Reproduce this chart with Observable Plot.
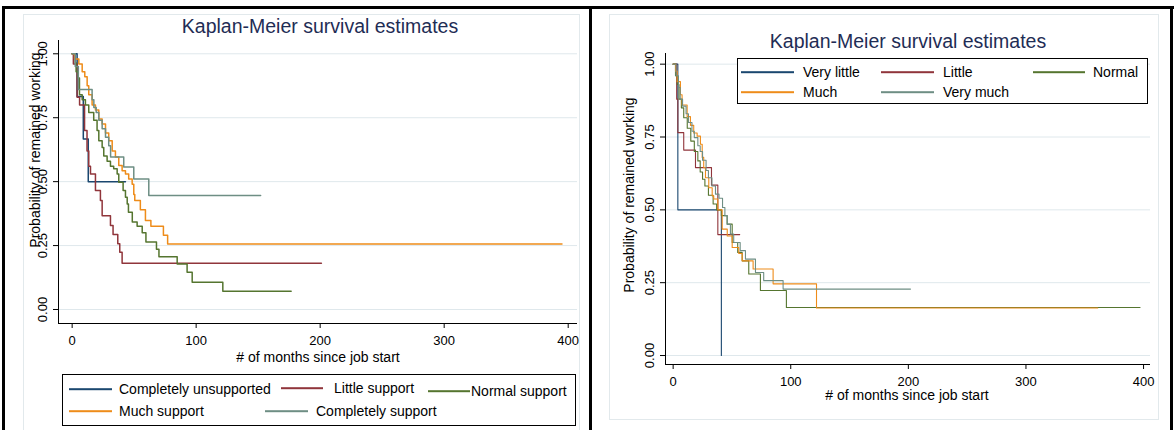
<!DOCTYPE html>
<html><head><meta charset="utf-8">
<script src="https://cdn.jsdelivr.net/npm/d3@7"></script>
<script src="https://cdn.jsdelivr.net/npm/@observablehq/plot@0.6"></script>
<style>
body{margin:0;background:#fff;font-family:"Liberation Sans",Arial,sans-serif;}
#wrap{position:relative;width:1174px;height:430px;overflow:hidden;background:#fff;}
.box{position:absolute;box-sizing:border-box;}
.t{position:absolute;white-space:nowrap;line-height:1;transform:translate(-50%,-50%);color:#000;}
.l{position:absolute;white-space:nowrap;line-height:1;transform:translate(0,-50%);color:#000;font-size:14px;}
.title{font-size:19.5px;color:#1f2d55;}
.ax{font-size:14px;}
.rot{transform:translate(-50%,-50%) rotate(-90deg);}
.sw{position:absolute;height:1.6px;transform:translate(0,-50%);}
.panel{position:absolute;top:0;}
</style></head><body><div id="wrap"></div>
<script>
// ---------- data ----------
const leftGroups = ["Completely unsupported","Little support","Normal support","Much support","Completely support"];
const rightGroups = ["Very little","Little","Normal","Much","Very much"];
const colors = ["#1a476f","#90353b","#55752f","#ee8c1a","#6e8e84"];
const xTicks = [0,100,200,300,400];
const yTicks = [0,0.25,0.5,0.75,1];
const titleText = "Kaplan-Meier survival estimates";
const xTitle = "# of months since job start";
const yTitle = "Probability of remained working";

// left panel (months, survival)
const leftUnsupT = [0, 4, 9, 13, 43];
const leftUnsupS = [1, 0.833, 0.667, 0.5, 0.5];
const leftLittleT = [0, 1, 4, 6, 10, 12, 13.4, 14.8, 18.8, 22.8, 24.2, 30.9, 33, 36.8, 38.4, 40.3, 201];
const leftLittleS = [1, 0.96, 0.83, 0.80, 0.70, 0.62, 0.56, 0.53, 0.465, 0.426, 0.367, 0.328, 0.293, 0.257, 0.224, 0.181, 0.181];
const leftNormalT = [0, 2.5, 3.2, 4.8, 5.9, 8.1, 10.7, 13.4, 17.4, 20.1, 21.5, 24.2, 25.5, 28.2, 30.9, 33.5, 36.3, 37.6, 41.1, 43, 44.4, 45.4, 48.5, 52.4, 56.5, 59.5, 68, 70, 84.7, 92.7, 96.8, 121.5, 176.6];
const leftNormalS = [1, 0.965, 0.93, 0.905, 0.84, 0.82, 0.80, 0.77, 0.74, 0.70, 0.66, 0.634, 0.60, 0.58, 0.56, 0.55, 0.53, 0.498, 0.465, 0.439, 0.413, 0.38, 0.342, 0.326, 0.30, 0.264, 0.236, 0.206, 0.178, 0.146, 0.107, 0.071, 0.071];
const leftMuchT = [0, 2, 5.4, 8.1, 10.2, 12.1, 13.4, 16.1, 18.8, 21.5, 24.2, 26.9, 29.5, 32.3, 34.9, 37.6, 40.3, 43, 45.6, 48.4, 49.7, 50.5, 55, 59.1, 63.5, 73.6, 77, 395];
const leftMuchS = [1, 0.98, 0.96, 0.93, 0.91, 0.875, 0.84, 0.80, 0.78, 0.745, 0.725, 0.69, 0.66, 0.62, 0.596, 0.563, 0.543, 0.53, 0.51, 0.49, 0.45, 0.426, 0.39, 0.348, 0.326, 0.29, 0.256, 0.256];
const leftCompT = [0, 2.5, 5, 16.1, 17.5, 19.4, 21.5, 24.2, 26.9, 29.5, 31, 41.6, 49.7, 61.8, 152];
const leftCompS = [1, 0.95, 0.86, 0.82, 0.79, 0.77, 0.74, 0.707, 0.674, 0.64, 0.596, 0.557, 0.51, 0.446, 0.446];

// right panel
const rightVeryLittleT = [0, 4, 41];
const rightVeryLittleS = [1, 0.5, 0];
const rightLittleT = [0, 3, 4, 9, 19, 32.6, 38, 56.6];
const rightLittleS = [1, 0.88, 0.765, 0.705, 0.645, 0.585, 0.415, 0.415];
const rightNormalT = [0, 2, 3.5, 5, 7, 9, 12, 15, 18, 21, 23, 25, 27, 30, 34, 37, 41, 45.9, 50.2, 54.9, 58.7, 64.3, 74.2, 96.3, 397];
const rightNormalS = [1, 0.96, 0.93, 0.88, 0.85, 0.816, 0.78, 0.736, 0.70, 0.668, 0.63, 0.605, 0.582, 0.55, 0.52, 0.50, 0.48, 0.451, 0.388, 0.354, 0.325, 0.28, 0.223, 0.165, 0.165];
const rightMuchT = [0, 2, 3.4, 6.2, 7.6, 11.9, 14.7, 17.5, 20.4, 23.2, 24.7, 26, 27.5, 30.3, 33.2, 34.5, 38, 41.7, 46, 50.2, 55.8, 58.7, 68, 85, 121.9, 361];
const rightMuchS = [1, 0.976, 0.94, 0.895, 0.86, 0.82, 0.79, 0.764, 0.753, 0.725, 0.68, 0.645, 0.61, 0.576, 0.548, 0.537, 0.50, 0.434, 0.41, 0.371, 0.35, 0.325, 0.297, 0.246, 0.163, 0.163];
const rightVeryMuchT = [0, 2.5, 4.5, 6, 8, 11, 13, 16, 18, 21, 23, 25, 28, 30, 33, 36, 39, 42, 44, 46, 48.7, 51.5, 57, 61.5, 70, 77, 93.5, 201.8];
const rightVeryMuchS = [1, 0.96, 0.92, 0.88, 0.856, 0.83, 0.80, 0.77, 0.748, 0.72, 0.70, 0.67, 0.635, 0.61, 0.582, 0.554, 0.54, 0.508, 0.48, 0.45, 0.417, 0.388, 0.36, 0.331, 0.285, 0.257, 0.228, 0.228];

// ---------- build ----------
const rows = (group, T, S) => T.map((t, i) => ({group, t, s: S[i]}));
const leftData = [
  ...rows(leftGroups[0], leftUnsupT, leftUnsupS),
  ...rows(leftGroups[1], leftLittleT, leftLittleS),
  ...rows(leftGroups[2], leftNormalT, leftNormalS),
  ...rows(leftGroups[3], leftMuchT, leftMuchS),
  ...rows(leftGroups[4], leftCompT, leftCompS)
];
const rightData = [
  ...rows(rightGroups[0], rightVeryLittleT, rightVeryLittleS),
  ...rows(rightGroups[1], rightLittleT, rightLittleS),
  ...rows(rightGroups[2], rightNormalT, rightNormalS),
  ...rows(rightGroups[3], rightMuchT, rightMuchS),
  ...rows(rightGroups[4], rightVeryMuchT, rightVeryMuchS)
];

const wrap = document.getElementById("wrap");
function add(html){ wrap.insertAdjacentHTML("beforeend", html); }

// frames
add(`<div class="box" style="left:23px;top:14px;width:557px;height:425px;border:1px solid #e2e9ec;"></div>`);
add(`<div class="box" style="left:609px;top:14px;width:550px;height:406px;border:1px solid #e2e9ec;"></div>`);
add(`<div class="box" style="left:2px;top:6px;width:1172px;height:3px;background:#000;"></div>`);
add(`<div class="box" style="left:2px;top:6px;width:3px;height:424px;background:#000;"></div>`);
add(`<div class="box" style="left:589px;top:6px;width:3px;height:424px;background:#000;"></div>`);
add(`<div class="box" style="left:1170px;top:6px;width:3px;height:424px;background:#000;"></div>`);

function panel({data, groups, xDomain, yDomain, width, height, mL, mR, mT, mB, sw}) {
  return Plot.plot({
    width, height, marginLeft: mL, marginRight: mR, marginTop: mT, marginBottom: mB,
    x: {domain: xDomain},
    y: {domain: yDomain},
    color: {domain: groups, range: colors},
    style: {background: "transparent", fontFamily: "'Liberation Sans', Arial, sans-serif", fontSize: "13px", color: "#000", overflow: "visible"},
    marks: [
      Plot.gridY({ticks: yTicks, stroke: "#dfe8ec", strokeOpacity: 1, strokeWidth: 1}),
      Plot.line(data, {x: "t", y: "s", z: "group", stroke: "group", curve: "step-after", strokeWidth: sw}),
      Plot.ruleX([xDomain[0]], {stroke: "#000", strokeWidth: 1}),
      Plot.ruleY([yDomain[0]], {stroke: "#000", strokeWidth: 1}),
      Plot.axisX({ticks: xTicks, tickSize: 5, tickPadding: 7, label: null, stroke: "#000", fill: "#000", fontSize: 13}),
      Plot.axisY({ticks: yTicks, tickSize: 5, tickPadding: 7, tickRotate: -90, tickFormat: d3.format(".2f"), label: null, stroke: "#000", fill: "#000", fontSize: 13})
    ]
  });
}

const leftPlot = panel({data: leftData, groups: leftGroups, xDomain: [-11, 407.5], yDomain: [-0.0548, 1.052],
  width: 590, height: 430, mL: 58, mR: 13, mT: 40, mB: 107, sw: 1.5});
const rightPlot = panel({data: rightData, groups: rightGroups, xDomain: [-6.5, 405.9], yDomain: [-0.0308, 1.0366],
  width: 584, height: 430, mL: 75, mR: 24, mT: 53, mB: 66, sw: 1.1});

const lp = document.createElement("div"); lp.className = "panel"; lp.style.left = "0px"; lp.appendChild(leftPlot); wrap.appendChild(lp);
const rp = document.createElement("div"); rp.className = "panel"; rp.style.left = "590px"; rp.appendChild(rightPlot); wrap.appendChild(rp);

// titles and axis titles
add(`<div class="t title" style="left:320px;top:27px;">${titleText}</div>`);
add(`<div class="t title" style="left:908px;top:42px;">${titleText}</div>`);
add(`<div class="t ax" style="left:318px;top:357px;">${xTitle}</div>`);
add(`<div class="t ax" style="left:907px;top:395px;">${xTitle}</div>`);
add(`<div class="t ax rot" style="left:35px;top:150px;">${yTitle}</div>`);
add(`<div class="t ax rot" style="left:629px;top:195px;">${yTitle}</div>`);

// left legend
add(`<div class="box" style="left:62px;top:374px;width:514px;height:52px;border:1px solid #000;background:#fff;"></div>`);
const leftLeg = [
  {x1: 69, x2: 112, tx: 119, y: 389},
  {x1: 281, x2: 323, tx: 334, y: 388},
  {x1: 428, x2: 470, tx: 471, y: 391},
  {x1: 69, x2: 112, tx: 119, y: 411},
  {x1: 265, x2: 308, tx: 316, y: 411}
];
leftLeg.forEach((p, i) => {
  add(`<div class="sw" style="left:${p.x1}px;top:${p.y}px;width:${p.x2 - p.x1}px;background:${colors[i]};"></div>`);
  add(`<div class="l" style="left:${p.tx}px;top:${p.y}px;">${leftGroups[i]}</div>`);
});

// right legend
add(`<div class="box" style="left:737px;top:58px;width:411px;height:46px;border:1px solid #000;background:#fff;"></div>`);
const rightLeg = [
  {x1: 741, x2: 794, tx: 803, y: 72},
  {x1: 881, x2: 934, tx: 943, y: 72},
  {x1: 1033, x2: 1085, tx: 1093, y: 72},
  {x1: 741, x2: 794, tx: 803, y: 92},
  {x1: 881, x2: 934, tx: 943, y: 92}
];
rightLeg.forEach((p, i) => {
  add(`<div class="sw" style="left:${p.x1}px;top:${p.y}px;width:${p.x2 - p.x1}px;background:${colors[i]};"></div>`);
  add(`<div class="l" style="left:${p.tx}px;top:${p.y}px;">${rightGroups[i]}</div>`);
});
</script>
</body></html>
